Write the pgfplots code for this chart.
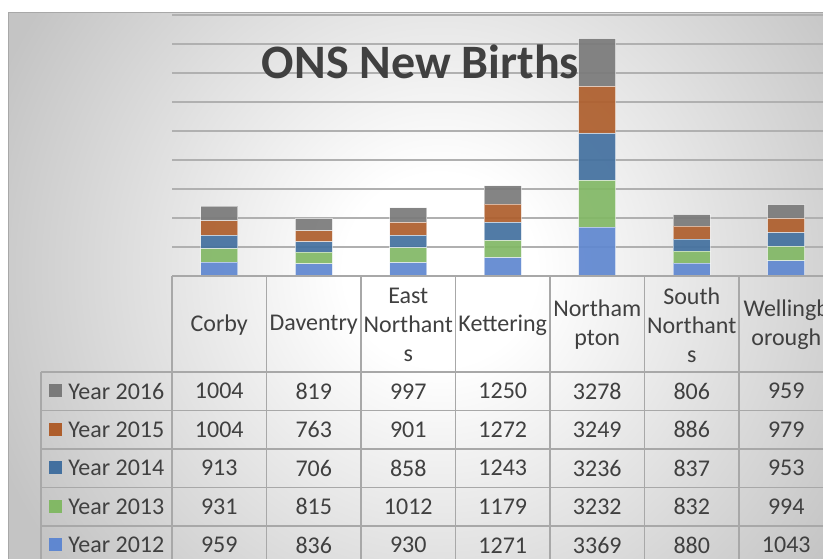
\documentclass[border=0pt]{standalone}
\usepackage{pgfplots}
\pgfplotsset{compat=1.18}
\usepackage{pgfplotstable}
\usepackage{fontspec}
\setmainfont{Carlito}

\definecolor{c2012}{HTML}{5F87D0}
\definecolor{c2013}{HTML}{82B865}
\definecolor{c2014}{HTML}{43709F}
\definecolor{c2015}{HTML}{AE5E2C}
\definecolor{c2016}{HTML}{7A7A7A}
\definecolor{txt}{HTML}{404040}
\definecolor{gridc}{HTML}{B0B0B0}
\definecolor{tabc}{HTML}{A8A8A8}
\definecolor{bgedge}{HTML}{C4C4C4}
% radius of the path = 25bp in a tikz radial shading
\pgfdeclareradialshading{chartbg}{\pgfpointorigin}{color(0bp)=(white); color(5bp)=(white); color(25bp)=(bgedge); color(50bp)=(bgedge)}

% births per district, one column per year
\pgfplotstableread{
idx y2012 y2013 y2014 y2015 y2016
0   959   931   913   1004  1004
1   836   815   706   763   819
2   930   1012  858   901   997
3   1271  1179  1243  1272  1250
4   3369  3232  3236  3249  3278
5   880   832   837   886   806
6   1043  994   953   979   959
}\births

\begin{document}
\begin{tikzpicture}
\useasboundingbox (0,0) rectangle (411.5pt,-279pt);
\clip (0,0) rectangle (411.5pt,-279pt);
% chart area background (pixel units, y down)
\begin{scope}[x=0.5pt,y=-0.5pt]
  \fill[white] (0,0) rectangle (823,558);
  \begin{scope}
    \clip (8,12) rectangle (900,700);
    \fill[bgedge] (8,12) rectangle (900,700);
    \shade[shading=chartbg] (440,270) circle (480);
  \end{scope}
  \draw[tabc, line width=0.5pt] (8,700) -- (8,12) -- (900,12);
\end{scope}

\begin{axis}[
    at={(86pt,-138pt)},
    anchor=south west,
    scale only axis,
    width=330.75pt,
    height=130.5pt,
    xmin=-0.5, xmax=6.5,
    ymin=0, ymax=18000,
    ybar stacked,
    bar width=18.5pt,
    xtick=\empty,
    ytick={2000,4000,6000,8000,10000,12000,14000,16000,18000},
    yticklabels={},
    scaled y ticks=false,
    major tick length=0pt,
    ymajorgrids=true,
    grid style={draw=gridc, line width=0.6pt},
    axis line style={draw=none},
    clip=false,
]
\addplot[fill=c2012, fill opacity=0.92, draw=white, draw opacity=0.5, line width=0.5pt] table[x=idx,y=y2012] {\births};
\addplot[fill=c2013, fill opacity=0.92, draw=white, draw opacity=0.5, line width=0.5pt] table[x=idx,y=y2013] {\births};
\addplot[fill=c2014, fill opacity=0.92, draw=white, draw opacity=0.5, line width=0.5pt] table[x=idx,y=y2014] {\births};
\addplot[fill=c2015, fill opacity=0.92, draw=white, draw opacity=0.5, line width=0.5pt] table[x=idx,y=y2015] {\births};
\addplot[fill=c2016, fill opacity=0.92, draw=white, draw opacity=0.5, line width=0.5pt] table[x=idx,y=y2016] {\births};
\end{axis}

% title and data table
\begin{scope}[x=0.5pt,y=-0.5pt,
    every node/.style={text=txt, font=\fontsize{12}{14.5}\selectfont}]
  \node[anchor=base, inner sep=0pt, font=\fontsize{24}{28}\selectfont\bfseries] at (420.5,78) {ONS New Births};
  % grid of the table
  \foreach \k in {0,...,7} \draw[tabc, line width=0.8pt] (172+94.5*\k,276) -- (172+94.5*\k,620);
  \draw[tabc, line width=0.8pt] (41,372) -- (41,620);
  \foreach \j in {0,...,5} \draw[tabc, line width=0.8pt] (41,372+38.5*\j) -- (900,372+38.5*\j);
  \draw[tabc, line width=1.2pt] (172,276) -- (900,276);
  % headers
  \foreach \lab [count=\i from 0] in {Corby, Daventry, {East\\Northant\\s}, Kettering, {Northam\\pton}, {South\\Northant\\s}, {Wellingb\\orough}}
    \node[align=center, inner sep=0pt] at (219.25+94.5*\i,325) {\lab};
  % rows
  \foreach \col/\yr [count=\j from 0] in {y2016/2016, y2015/2015, y2014/2014, y2013/2013, y2012/2012} {
    \fill[c\yr] (49,384.25+38.5*\j) rectangle (62,397.25+38.5*\j);
    \node[anchor=west, inner sep=0pt] at (68,391.25+38.5*\j) {Year \yr};
    \foreach \i in {0,...,6} {
      \pgfplotstablegetelem{\i}{\col}\of\births
      \node[inner sep=0pt] at (219.25+94.5*\i,391.25+38.5*\j) {\pgfplotsretval};
    }
  }
\end{scope}
\end{tikzpicture}
\end{document}
